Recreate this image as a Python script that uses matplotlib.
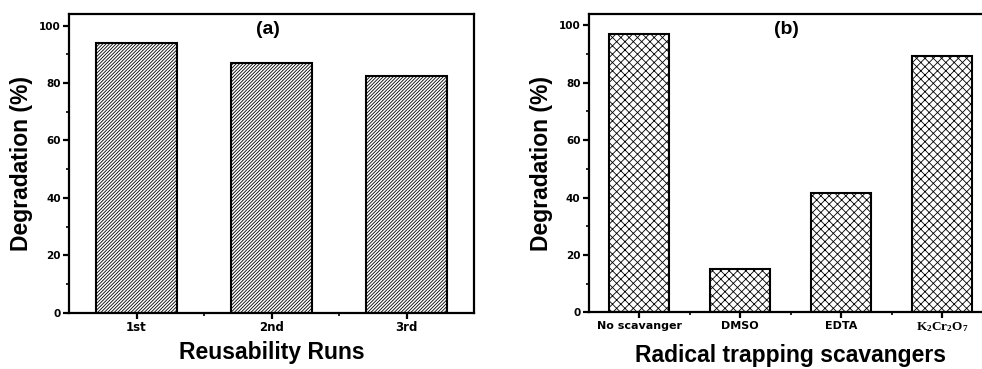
import matplotlib.pyplot as plt
from matplotlib.ticker import MultipleLocator

# Reusability runs (a)
runs = ['1st', '2nd', '3rd']
runs_deg = [94, 87, 82.3]

# Scavenger tests (b)
scav = ['No scavanger', 'DMSO', 'EDTA', r'$\mathregular{K_2Cr_2O_7}$']
scav_deg = [97, 15.2, 41.7, 89.3]

plt.rcParams['hatch.linewidth'] = 0.6
plt.rcParams['hatch.color'] = '#3a3a3a'

fig = plt.figure(figsize=(9.82, 3.69), dpi=100)
ax1 = fig.add_axes([0.0703, 0.152, 0.4124, 0.810])
ax2 = fig.add_axes([0.5995, 0.154, 0.4112, 0.808])


def style_axes(ax, n):
    ax.set_xlim(0.5, n + 0.5)
    ax.set_ylim(0, 104)
    ax.yaxis.set_major_locator(MultipleLocator(20))
    ax.yaxis.set_minor_locator(MultipleLocator(10))
    ax.set_xticks(range(1, n + 1))
    ax.set_xticks([i + 0.5 for i in range(1, n)], minor=True)
    for s in ax.spines.values():
        s.set_linewidth(1.6)
    ax.tick_params(which='major', direction='out', length=4, width=1.6,
                   labelsize=7.5, pad=2)
    ax.tick_params(which='minor', direction='out', length=2.5, width=1.2)
    for lab in ax.get_yticklabels():
        lab.set_fontweight('bold')
    ax.set_ylabel('Degradation (%)', fontsize=16.5, fontweight='bold',
                  family='Liberation Sans', labelpad=4)


x1 = range(1, len(runs) + 1)
ax1.bar(x1, runs_deg, width=0.6, facecolor='white', edgecolor='black',
        linewidth=1.5, hatch='//////////')
style_axes(ax1, len(runs))
ax1.set_xticklabels(runs, fontsize=8.5, fontweight='bold')
ax1.set_xlabel('Reusability Runs', fontsize=16.5, fontweight='bold',
               family='Liberation Sans', labelpad=5)
ax1.text(0.49, 0.975, '(a)', transform=ax1.transAxes, ha='center', va='top',
         fontsize=14, fontweight='bold', family='Liberation Sans')

x2 = range(1, len(scav) + 1)
ax2.bar(x2, scav_deg, width=0.6, facecolor='white', edgecolor='black',
        linewidth=1.5, hatch='xxxx')
style_axes(ax2, len(scav))
ax2.set_xticklabels(scav, fontsize=8, fontweight='bold')
k_lab = ax2.get_xticklabels()[-1]
k_lab.set_family('Liberation Serif')
k_lab.set_fontsize(9.5)
ax2.set_xlabel('Radical trapping scavangers', fontsize=16.5, fontweight='bold',
               family='Liberation Sans', labelpad=7)
ax2.text(0.49, 0.975, '(b)', transform=ax2.transAxes, ha='center', va='top',
         fontsize=14, fontweight='bold', family='Liberation Sans')

fig.savefig('out.png', dpi=100)
